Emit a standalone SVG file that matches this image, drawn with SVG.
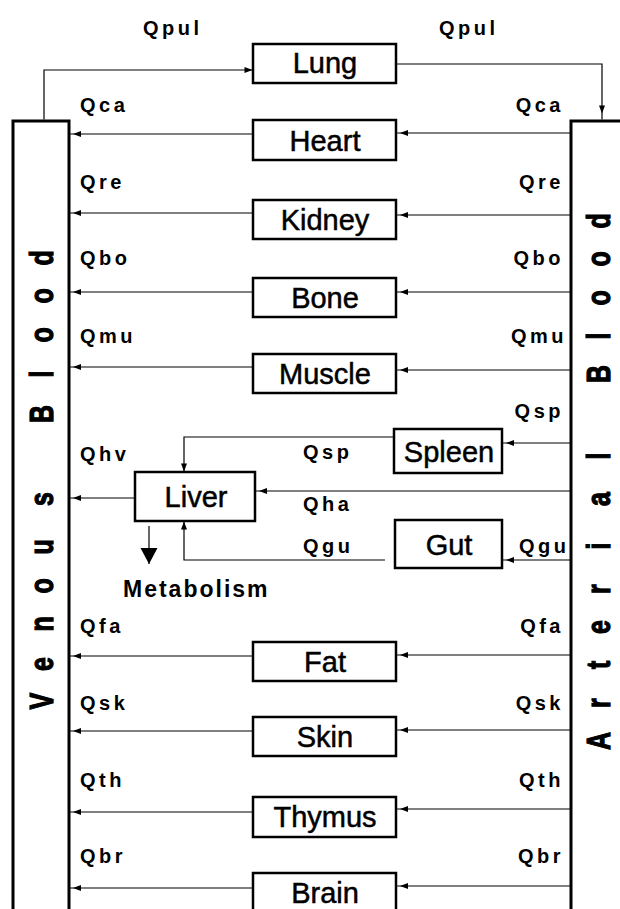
<svg xmlns="http://www.w3.org/2000/svg" width="620" height="909" viewBox="0 0 620 909">
<defs>
<style>
.bg{fill:#fff}
.blood{fill:#fff;stroke:#000;stroke-width:3}
.organ{fill:#fff;stroke:#000;stroke-width:2.5}
.otxt{font-family:"Liberation Sans",Arial,sans-serif;font-size:29px;text-anchor:middle;fill:#000;stroke:#000;stroke-width:0.5}
.vtxt{font-family:"Liberation Sans",Arial,sans-serif;font-size:25px;font-weight:bold;fill:#000;stroke:#000;stroke-width:0.9}
.lbl{font-family:"Liberation Sans",Arial,sans-serif;font-size:20px;font-weight:bold;letter-spacing:3.5px;fill:#000}
.lr{text-anchor:end}
.met{font-family:"Liberation Sans",Arial,sans-serif;font-size:23px;font-weight:bold;letter-spacing:2px;fill:#000}
.con{fill:none;stroke:#000;stroke-width:1.2}
.a{marker-end:url(#arr)}
.a0{marker-end:url(#arr0)}
.a6{marker-end:url(#arr6)}
</style>
<marker id="arr" markerUnits="userSpaceOnUse" markerWidth="14" markerHeight="8" refX="12" refY="3" orient="auto" overflow="visible"><path d="M8,3 L0,0 L0,6 Z" fill="#000"/></marker>
<marker id="arr0" markerUnits="userSpaceOnUse" markerWidth="14" markerHeight="8" refX="8.5" refY="3" orient="auto" overflow="visible"><path d="M8,3 L0,0 L0,6 Z" fill="#000"/></marker>
<marker id="arr6" markerUnits="userSpaceOnUse" markerWidth="16" markerHeight="8" refX="14" refY="3" orient="auto" overflow="visible"><path d="M8,3 L0,0 L0,6 Z" fill="#000"/></marker>
<marker id="big" markerUnits="userSpaceOnUse" markerWidth="17" markerHeight="17" refX="16" refY="8.5" orient="auto" overflow="visible"><path d="M16,8.5 L0,0 L0,17 Z" fill="#000"/></marker>
</defs>
<rect class="bg" x="0" y="0" width="620" height="909"/>

<g id="connectors">
<path class="con a0" d="M44,119.5 V70 H253"/>
<path class="con a6" d="M396,64 H602 V119.5"/>
<path class="con a" d="M571,133 H396"/>
<path class="con a" d="M253,134 H69"/>
<path class="con a" d="M571,215 H396"/>
<path class="con a" d="M253,213 H69"/>
<path class="con a" d="M571,292 H396"/>
<path class="con a" d="M253,292 H69"/>
<path class="con a" d="M571,370 H396"/>
<path class="con a" d="M253,367 H69"/>
<path class="con a" d="M571,443 H502"/>
<path class="con a0" d="M394,437 H184 V472"/>
<path class="con a" d="M571,491 H255"/>
<path class="con a" d="M571,560 H502"/>
<path class="con a0" d="M385,560 H184 V521"/>
<path class="con a" d="M135,498 H69"/>
<path class="con" style="marker-end:url(#big)" d="M149,526 V564"/>
<path class="con a" d="M571,655 H396"/>
<path class="con a" d="M253,656 H69"/>
<path class="con a" d="M571,730 H396"/>
<path class="con a" d="M253,731 H69"/>
<path class="con a" d="M573,809 H396"/>
<path class="con a" d="M253,812 H69"/>
<path class="con a" d="M573,886 H396"/>
<path class="con a" d="M253,888 H69"/>
</g>

<g id="flow-labels">
<text class="lbl" x="143" y="35">Qpul</text>
<text class="lbl" x="439" y="35">Qpul</text>
<text class="lbl" x="80" y="112">Qca</text>
<text class="lbl lr" x="564" y="112">Qca</text>
<text class="lbl" x="80" y="189">Qre</text>
<text class="lbl lr" x="564" y="189">Qre</text>
<text class="lbl" x="80" y="265">Qbo</text>
<text class="lbl lr" x="564" y="265">Qbo</text>
<text class="lbl" x="80" y="343">Qmu</text>
<text class="lbl lr" x="567" y="343">Qmu</text>
<text class="lbl lr" x="564" y="418">Qsp</text>
<text class="lbl" x="80" y="461">Qhv</text>
<text class="lbl" x="303" y="459">Qsp</text>
<text class="lbl" x="303" y="511">Qha</text>
<text class="lbl" x="303" y="553">Qgu</text>
<text class="lbl" x="519" y="553">Qgu</text>
<text class="met" x="123" y="597">Metabolism</text>
<text class="lbl" x="80" y="633">Qfa</text>
<text class="lbl lr" x="564" y="633">Qfa</text>
<text class="lbl" x="80" y="710">Qsk</text>
<text class="lbl lr" x="564" y="710">Qsk</text>
<text class="lbl" x="80" y="787">Qth</text>
<text class="lbl lr" x="564" y="787">Qth</text>
<text class="lbl" x="80" y="863">Qbr</text>
<text class="lbl lr" x="564" y="863">Qbr</text>
</g>

<g id="venous-blood">
<rect class="blood" x="13" y="121" width="56" height="800"/>
<text class="vtxt" transform="translate(53,0) rotate(-90) scale(1,1.35)" x="-709.4 -671 -631.6 -593.6 -554.6 -506 -460.5 -423 -377.5 -342.6 -303.6 -265.6" y="0">Venous Blood</text>
</g>
<g id="arterial-blood">
<rect class="blood" x="571" y="121" width="60" height="800"/>
<text class="vtxt" transform="translate(610,0) rotate(-90) scale(1,1.35)" x="-750 -707.9 -669.1 -634 -593.9 -549.5 -506 -459.5 -418.5 -383 -339.5 -305.6 -266.6 -228.6" y="0">Arterial Blood</text>
</g>

<g id="lung"><rect class="organ" x="253" y="44" width="143" height="39"/><text class="otxt" x="325" y="73">Lung</text></g>
<g id="heart"><rect class="organ" x="253" y="120" width="143" height="40"/><text class="otxt" x="325" y="151">Heart</text></g>
<g id="kidney"><rect class="organ" x="253" y="200" width="143" height="39"/><text class="otxt" x="325" y="230">Kidney</text></g>
<g id="bone"><rect class="organ" x="253" y="278" width="143" height="39"/><text class="otxt" x="325" y="308">Bone</text></g>
<g id="muscle"><rect class="organ" x="253" y="354" width="143" height="39"/><text class="otxt" x="325" y="384">Muscle</text></g>
<g id="spleen"><rect class="organ" x="394" y="429" width="108" height="44"/><text class="otxt" x="449" y="462">Spleen</text></g>
<g id="liver"><rect class="organ" x="135" y="472" width="120" height="49"/><text class="otxt" x="196" y="507">Liver</text></g>
<g id="gut"><rect class="organ" x="395" y="520" width="107" height="48"/><text class="otxt" x="449" y="555">Gut</text></g>
<g id="fat"><rect class="organ" x="253" y="642" width="143" height="39"/><text class="otxt" x="325" y="672">Fat</text></g>
<g id="skin"><rect class="organ" x="253" y="717" width="143" height="39"/><text class="otxt" x="325" y="747">Skin</text></g>
<g id="thymus"><rect class="organ" x="253" y="797" width="143" height="40"/><text class="otxt" x="325" y="827">Thymus</text></g>
<g id="brain"><rect class="organ" x="253" y="873" width="143" height="40"/><text class="otxt" x="325" y="903">Brain</text></g>
</svg>
